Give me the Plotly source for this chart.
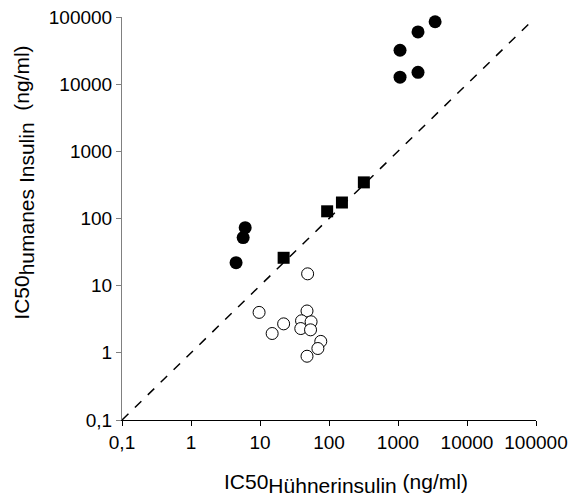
import plotly.graph_objects as go

# Data (ng/ml)
hi_x = [1070, 1070, 1950, 1950, 3450, 4.5, 5.7, 6.1]
hi_y = [32000, 12700, 60000, 15000, 85000, 22, 52, 73]

sq_x = [22, 94, 154, 320]
sq_y = [26, 128, 173, 345]

lo_x = [49, 9.7, 22, 15, 48, 40, 55, 39, 54, 76, 69, 48]
lo_y = [15, 4.0, 2.7, 1.94, 4.2, 3.0, 2.9, 2.3, 2.2, 1.48, 1.16, 0.89]

line_x = [0.1, 90000]
line_y = [0.1, 90000]

tick_vals = [0.1, 1, 10, 100, 1000, 10000, 100000]
tick_text = ["0,1", "1", "10", "100", "1000", "10000", "100000"]

fig = go.Figure()
fig.add_trace(go.Scatter(x=line_x, y=line_y, mode="lines",
                         line=dict(color="black", width=1.5, dash="dash"),
                         hoverinfo="skip", showlegend=False, cliponaxis=False))
fig.add_trace(go.Scatter(x=hi_x, y=hi_y, mode="markers",
                         marker=dict(symbol="circle", size=13, color="black"),
                         showlegend=False, cliponaxis=False))
fig.add_trace(go.Scatter(x=sq_x, y=sq_y, mode="markers",
                         marker=dict(symbol="square", size=12, color="black"),
                         showlegend=False, cliponaxis=False))
fig.add_trace(go.Scatter(x=lo_x, y=lo_y, mode="markers",
                         marker=dict(symbol="circle", size=12, color="white",
                                     line=dict(color="black", width=1)),
                         showlegend=False, cliponaxis=False))

font = dict(family="Liberation Sans, Arial, sans-serif", color="black")

x_title = ("IC50<sub><span style='font-size:21px'>Hühnerinsulin</span></sub>"
           " (ng/ml)")
y_title = ("IC50<sub><span style='font-size:21px'>humanes Insulin</span></sub>"
           "  (ng/ml)")

fig.update_layout(
    width=574, height=503,
    margin=dict(l=122, r=38, t=17, b=83),
    paper_bgcolor="white", plot_bgcolor="white",
    font=dict(**font, size=19),
    xaxis=dict(type="log", range=[-1, 5], tickvals=tick_vals, ticktext=tick_text,
               showgrid=False, zeroline=False, showline=True, linecolor="black",
               linewidth=1, ticks="outside", ticklen=5, tickcolor="black",
               tickfont=dict(**font, size=19), automargin=False),
    yaxis=dict(type="log", range=[-1, 5], tickvals=tick_vals, ticktext=tick_text,
               showgrid=False, zeroline=False, showline=True, linecolor="#808080",
               linewidth=1, ticks="outside", ticklen=5, tickcolor="#808080",
               tickfont=dict(**font, size=19), automargin=False),
    annotations=[
        dict(text=x_title, xref="paper", yref="paper", x=0.541, y=-0.158,
             xanchor="center", yanchor="middle", showarrow=False,
             font=dict(**font, size=21)),
        dict(text=y_title, xref="paper", yref="paper", x=-0.238, y=0.59,
             xanchor="center", yanchor="middle", showarrow=False, textangle=-90,
             font=dict(**font, size=21)),
    ],
)

fig.write_html("out.html")
